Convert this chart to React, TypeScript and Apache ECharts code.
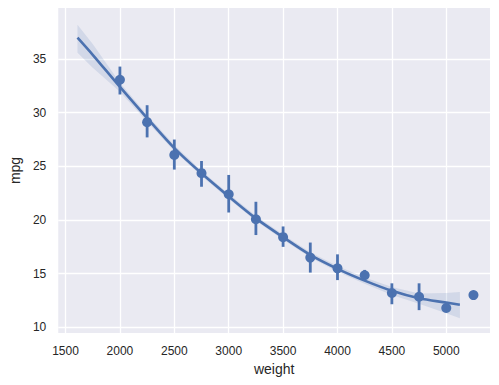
import React, { useEffect, useRef } from "react";
import * as echarts from "echarts";

// Binned estimates (x_bins) with 95% CI
const binX = [2000, 2250, 2500, 2750, 3000, 3250, 3500, 3750, 4000, 4250, 4500, 4750, 5000, 5250];
const binMean = [33.07, 29.12, 26.07, 24.37, 22.4, 20.07, 18.4, 16.5, 15.5, 14.85, 13.2, 12.85, 11.8, 13.0];
const binLow = [31.7, 27.7, 24.7, 23.1, 20.7, 18.6, 17.5, 15.1, 14.4, 14.55, 12.15, 11.6, null, null];
const binHigh = [34.3, 30.7, 27.5, 25.5, 24.2, 21.7, 19.4, 17.9, 16.8, 15.35, 14.1, 14.1, null, null];

// Regression fit (order 2) with confidence band
const fitX = [1610, 1750, 2000, 2250, 2500, 2750, 3000, 3250, 3500, 3750, 4000, 4250, 4500, 4750, 5000, 5125];
const fitY = [37.0, 35.4, 32.4, 29.5, 26.7, 24.35, 22.2, 20.15, 18.4, 16.75, 15.45, 14.35, 13.4, 12.7, 12.3, 12.1];
const fitUpper = [38.2, 36.4, 32.8, 29.8, 27.0, 24.6, 22.45, 20.4, 18.65, 17.0, 15.72, 14.65, 13.75, 13.15, 13.2, 13.3];
const fitLower = [35.6, 34.2, 31.95, 29.15, 26.4, 24.1, 21.95, 19.9, 18.15, 16.5, 15.18, 14.05, 13.0, 12.2, 11.3, 10.85];

const xTicks = [1500, 2000, 2500, 3000, 3500, 4000, 4500, 5000];
const yTicks = [10, 15, 20, 25, 30, 35];

const BLUE = "#4C72B0";
const FONT = "'Liberation Sans', Arial, sans-serif";

export default function App() {
  const ref = useRef<HTMLDivElement>(null);
  useEffect(() => {
    if (!ref.current) return;
    const chart = echarts.init(ref.current, undefined, { renderer: "svg" });
    const bandData = fitX.map((x, i) => [x, fitLower[i], fitUpper[i]]);
    const errData = binX
      .map((x, i) => [x, binLow[i], binHigh[i]])
      .filter((d) => d[1] != null && d[2] != null);
    chart.setOption({
      animation: false,
      backgroundColor: "#ffffff",
      grid: { left: 55, right: 9, top: 8, bottom: 52, show: true, backgroundColor: "#EAEAF2", borderWidth: 0 },
      xAxis: {
        type: "value",
        min: 1433,
        max: 5402,
        name: "weight",
        nameLocation: "middle",
        nameGap: 29,
        nameTextStyle: { fontFamily: FONT, fontSize: 14, color: "#262626" },
        axisLine: { show: false },
        axisTick: { show: false, customValues: xTicks },
        axisLabel: {
          customValues: xTicks,
          formatter: (v: number) => String(v),
          fontFamily: FONT,
          fontSize: 12,
          color: "#262626",
          margin: 12,
        },
        splitLine: { show: true, lineStyle: { color: "#ffffff", width: 1.3 } },
      },
      yAxis: {
        type: "value",
        min: 9.47,
        max: 39.76,
        name: "mpg",
        nameLocation: "middle",
        nameGap: 32,
        nameTextStyle: { fontFamily: FONT, fontSize: 14, color: "#262626" },
        axisLine: { show: false },
        axisTick: { show: false, customValues: yTicks },
        axisLabel: {
          customValues: yTicks,
          formatter: (v: number) => String(v),
          fontFamily: FONT,
          fontSize: 12,
          color: "#262626",
          margin: 12,
        },
        splitLine: { show: true, lineStyle: { color: "#ffffff", width: 1.3 } },
      },
      series: [
        {
          type: "custom",
          data: bandData,
          z: 1,
          renderItem: (params: any, api: any) => {
            if (params.dataIndex !== 0) return null;
            const upper = bandData.map((d) => api.coord([d[0], d[2]]));
            const lower = bandData.map((d) => api.coord([d[0], d[1]])).reverse();
            return {
              type: "polygon",
              shape: { points: upper.concat(lower) },
              style: { fill: "rgba(76,114,176,0.15)", stroke: "none" },
            };
          },
          encode: { x: 0, y: [1, 2] },
          silent: true,
        },
        {
          type: "custom",
          data: errData,
          z: 3,
          renderItem: (params: any, api: any) => {
            const p1 = api.coord([api.value(0), api.value(1)]);
            const p2 = api.coord([api.value(0), api.value(2)]);
            return {
              type: "line",
              shape: { x1: p1[0], y1: p1[1], x2: p2[0], y2: p2[1] },
              style: { stroke: BLUE, lineWidth: 2.8 },
            };
          },
          encode: { x: 0, y: [1, 2] },
          silent: true,
        },
        {
          type: "scatter",
          data: binX.map((x, i) => [x, binMean[i]]),
          symbol: "circle",
          symbolSize: 10,
          itemStyle: { color: BLUE, opacity: 1 },
          z: 4,
        },
        {
          type: "line",
          data: fitX.map((x, i) => [x, fitY[i]]),
          smooth: 0.3,
          showSymbol: false,
          symbol: "none",
          lineStyle: { color: BLUE, width: 2.6 },
          z: 5,
        },
      ],
    });
    return () => chart.dispose();
  }, []);
  return <div ref={ref} style={{ position: "fixed", left: 0, top: 0, width: 499, height: 385 }} />;
}
